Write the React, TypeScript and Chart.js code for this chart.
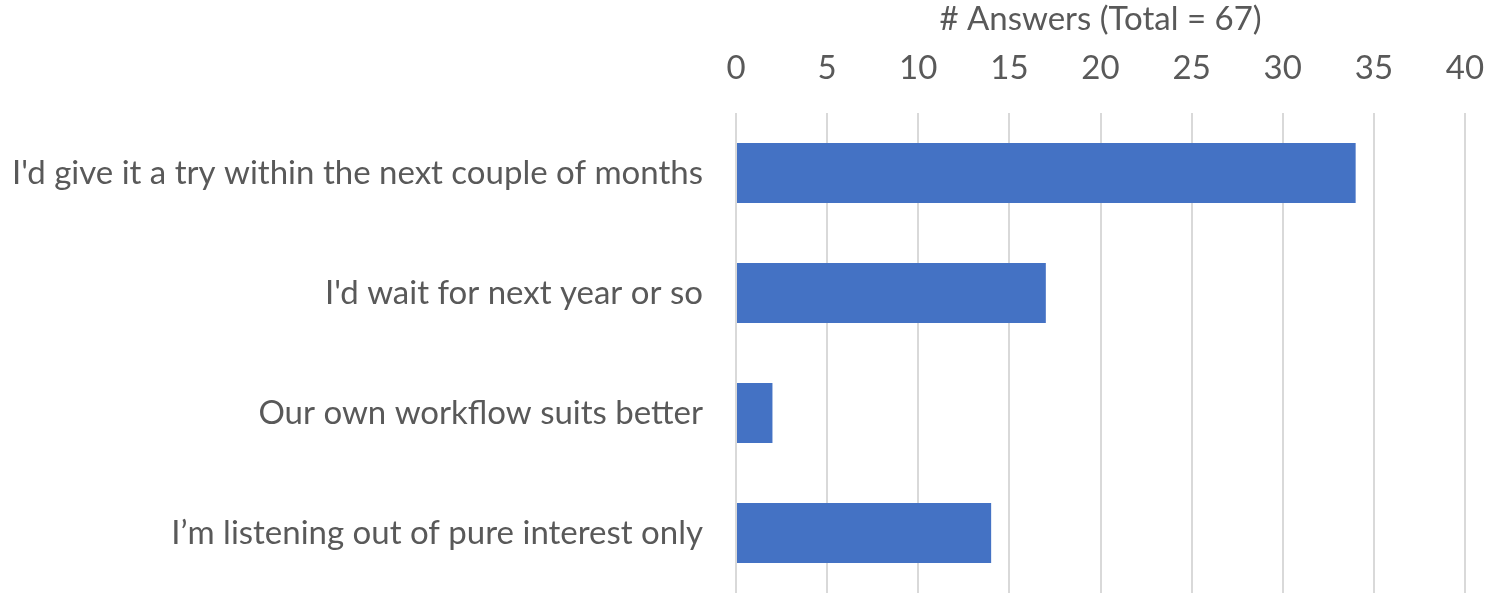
import React, { useEffect, useRef } from "react";
import { Chart, registerables } from "chart.js";

Chart.register(...registerables);

const categories = [
  "I'd give it a try within the next couple of months",
  "I'd wait for next year or so",
  "Our own workflow suits better",
  "I\u2019m listening out of pure interest only",
];
const answers = [34, 17, 2, 14];
const axisTitle = "# Answers (Total = 67)";
const xMin = 0;
const xMax = 40;
const xStep = 5;

const FONT = "Lato, 'Noto Sans', sans-serif";
const TEXT = "#595959";

export default function App() {
  const ref = useRef<HTMLCanvasElement | null>(null);
  useEffect(() => {
    document.body.style.margin = "0";
    const chart = new Chart(ref.current!, {
      type: "bar",
      data: {
        labels: categories,
        datasets: [
          {
            data: answers,
            backgroundColor: "#4472C4",
            borderWidth: 0,
            barPercentage: 0.5,
            categoryPercentage: 1,
          },
        ],
      },
      options: {
        indexAxis: "y",
        animation: false,
        responsive: false,
        maintainAspectRatio: false,
        layout: { padding: { left: 0, right: 24, top: 0, bottom: 2 } },
        plugins: { legend: { display: false }, tooltip: { enabled: false } },
        scales: {
          x: {
            position: "top",
            min: xMin,
            max: xMax,
            ticks: { stepSize: xStep, color: TEXT, font: { family: FONT, size: 33 }, padding: 25 },
            grid: { color: "#d9d9d9", lineWidth: 2, drawTicks: false },
            border: { display: false },
            title: {
              display: true,
              text: axisTitle,
              color: TEXT,
              font: { family: FONT, size: 33 },
              padding: { top: 0, bottom: 0 },
            },
            afterFit: (s: any) => {
              s.height = 113;
              s.paddingLeft = 0;
              s.paddingRight = 0;
            },
          },
          y: {
            ticks: { color: TEXT, font: { family: FONT, size: 33 }, padding: 25 },
            grid: { display: false },
            border: { display: false },
            afterFit: (s: any) => {
              s.width = 736;
              s.paddingTop = 0;
              s.paddingBottom = 0;
            },
          },
        },
      },
    });
    return () => chart.destroy();
  }, []);
  return (
    <div style={{ position: "absolute", left: 0, top: 0, width: 1489, height: 595 }}>
      <canvas ref={ref} width={1489} height={595} style={{ display: "block" }} />
    </div>
  );
}
